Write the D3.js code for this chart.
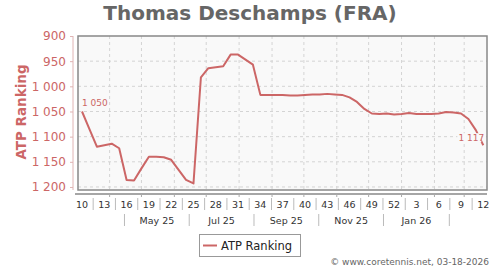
<!DOCTYPE html>
<html>
<head>
<meta charset="utf-8">
<script src="https://cdn.jsdelivr.net/npm/d3@7"></script>
<style>
    body { margin: 0; background: #fff; }
    text { font-family: "DejaVu Sans", sans-serif; }
</style>
</head>
<body>
<div id="chart_div"></div>
<script>
// weekly ATP ranking, 2025 week 10 .. 2026 week 12
const weeks = [10, 11, 12, 13, 14, 15, 16, 17, 18, 19, 20, 21, 22, 23, 24, 25, 26, 27, 28, 29,
    30, 31, 32, 33, 34, 35, 36, 37, 38, 39, 40, 41, 42, 43, 44, 45, 46, 47, 48, 49, 50, 51, 52,
    1, 2, 3, 4, 5, 6, 7, 8, 9, 10, 11, 12];
const ranking = [1050, 1085, 1120, 1117, 1114, 1123, 1186, 1187, 1163, 1140, 1140, 1141, 1146, 1166, 1186, 1193,
    982, 964, 962, 960, 937, 937, 947, 957, 1017, 1017, 1017, 1017, 1018, 1018, 1017, 1016, 1016, 1015, 1016,
    1017, 1022, 1031, 1045, 1054, 1055, 1054, 1056, 1055, 1053, 1055, 1055, 1055, 1054, 1051, 1052, 1054,
    1065, 1087, 1117];
const yTicks = [900, 950, 1000, 1050, 1100, 1150, 1200];
const monthLabels = ["May 25", "Jul 25", "Sep 25", "Nov 25", "Jan 26"];
const firstWeekDate = new Date(2025, 2, 6); // thursday of week 10

const width = 500;
const height = 270;
const plot = { left: 78, right: 487, top: 36, bottom: 190 };
const red = "#cc6666";

const svg = d3.select("#chart_div")
    .append("svg")
    .attr("width", width)
    .attr("height", height);

// Scales
const x = d3.scaleLinear()
    .domain([-0.54, 54.5])
    .range([plot.left, plot.right]);

const y = d3.scaleLinear()
    .domain([900, 1206])
    .range([plot.top, plot.bottom]);

const dayIndex = d => (d - firstWeekDate) / (7 * 24 * 3600 * 1000);
const monthStarts = d3.timeMonth.range(new Date(2025, 3, 1), new Date(2026, 2, 2));
const separators = [3, 5, 7, 9, 11, 13].map(m => new Date(2025, m, 15));
const fmt = v => d3.format(",")(v).replace(/,/g, " ");

// Title
svg.append("text")
    .attr("x", 250)
    .attr("y", 20)
    .attr("text-anchor", "middle")
    .attr("font-size", 20)
    .attr("font-weight", "bold")
    .attr("fill", "#666")
    .text("Thomas Deschamps (FRA)");

// Plot background and grid
svg.append("rect")
    .attr("x", plot.left)
    .attr("y", plot.top)
    .attr("width", plot.right - plot.left)
    .attr("height", plot.bottom - plot.top)
    .attr("fill", "#f9f9f9");

const grid = svg.append("g")
    .attr("stroke", "#d4d4d4")
    .attr("stroke-dasharray", "3,3");

grid.selectAll(".hgrid")
    .data(yTicks.slice(1))
    .enter()
    .append("line")
    .attr("x1", plot.left)
    .attr("x2", plot.right)
    .attr("y1", d => y(d))
    .attr("y2", d => y(d));

grid.selectAll(".vgrid")
    .data(monthStarts)
    .enter()
    .append("line")
    .attr("x1", d => x(dayIndex(d)))
    .attr("x2", d => x(dayIndex(d)))
    .attr("y1", plot.top)
    .attr("y2", plot.bottom);

svg.append("rect")
    .attr("x", plot.left)
    .attr("y", plot.top)
    .attr("width", plot.right - plot.left)
    .attr("height", plot.bottom - plot.top)
    .attr("fill", "none")
    .attr("stroke", "#888")
    .attr("stroke-width", 1.5);

// Y axis
const yAxis = svg.append("g")
    .attr("transform", `translate(${plot.left - 5},0)`)
    .call(d3.axisLeft(y).tickValues(yTicks).tickSize(3).tickPadding(4).tickFormat(fmt));

yAxis.select(".domain").attr("stroke", "#e0b4b4").attr("d", `M0,${plot.top}V${plot.bottom}`);
yAxis.selectAll(".tick line").attr("stroke", "#e0b4b4");
yAxis.selectAll(".tick text")
    .attr("fill", red)
    .attr("font-size", 12)
    .attr("font-family", "DejaVu Sans");

svg.append("text")
    .attr("transform", "translate(26,112) rotate(-90)")
    .attr("text-anchor", "middle")
    .attr("font-size", 13.5)
    .attr("font-weight", "bold")
    .attr("fill", red)
    .text("ATP Ranking");

// X axis
const axisY = 194;
svg.append("line")
    .attr("x1", plot.left - 3)
    .attr("x2", plot.right)
    .attr("y1", axisY)
    .attr("y2", axisY)
    .attr("stroke", "#888")
    .attr("stroke-width", 1.5);

svg.append("g")
    .selectAll("line")
    .data(monthStarts)
    .enter()
    .append("line")
    .attr("x1", d => x(dayIndex(d)))
    .attr("x2", d => x(dayIndex(d)))
    .attr("y1", axisY)
    .attr("y2", axisY + 3)
    .attr("stroke", "#aaa");

const weekLabelIdx = d3.range(0, weeks.length, 3);

svg.append("g")
    .selectAll("text")
    .data(weekLabelIdx)
    .enter()
    .append("text")
    .attr("x", i => x(i))
    .attr("y", 208)
    .attr("text-anchor", "middle")
    .attr("font-size", 9.5)
    .attr("fill", "#333")
    .text(i => weeks[i]);

svg.append("g")
    .selectAll("line")
    .data(weekLabelIdx.slice(0, -1))
    .enter()
    .append("line")
    .attr("x1", i => x(i + 1.5))
    .attr("x2", i => x(i + 1.5))
    .attr("y1", 198)
    .attr("y2", 210)
    .attr("stroke", "#bbb");

svg.append("g")
    .selectAll("line")
    .data(separators)
    .enter()
    .append("line")
    .attr("x1", d => x(dayIndex(d)))
    .attr("x2", d => x(dayIndex(d)))
    .attr("y1", 214)
    .attr("y2", 226)
    .attr("stroke", "#bbb");

svg.append("g")
    .selectAll("text")
    .data(monthLabels)
    .enter()
    .append("text")
    .attr("x", (d, i) => (x(dayIndex(separators[i])) + x(dayIndex(separators[i + 1]))) / 2)
    .attr("y", 224)
    .attr("text-anchor", "middle")
    .attr("font-size", 9.5)
    .attr("fill", "#333")
    .text(d => d);

// Line
const line = d3.line()
    .x((d, i) => x(i))
    .y(d => y(d));

svg.append("path")
    .datum(ranking)
    .attr("fill", "none")
    .attr("stroke", red)
    .attr("stroke-width", 2)
    .attr("stroke-linejoin", "round")
    .attr("d", line);

const last = ranking.length - 1;
svg.append("text")
    .attr("x", x(0))
    .attr("y", y(ranking[0]) - 5)
    .attr("font-size", 9)
    .attr("fill", red)
    .text(fmt(ranking[0]));

svg.append("rect")
    .attr("x", x(last) - 26)
    .attr("y", y(ranking[last]) - 12)
    .attr("width", 24)
    .attr("height", 9)
    .attr("fill", "#f9f9f9");

svg.append("text")
    .attr("x", x(last) + 1)
    .attr("y", y(ranking[last]) - 4)
    .attr("text-anchor", "end")
    .attr("font-size", 9)
    .attr("fill", red)
    .text(fmt(ranking[last]));

// Legend
const legend = svg.append("g");
legend.append("rect")
    .attr("x", 199.5)
    .attr("y", 234.5)
    .attr("width", 101)
    .attr("height", 22)
    .attr("fill", "#fff")
    .attr("stroke", "#999");
legend.append("line")
    .attr("x1", 203)
    .attr("x2", 217)
    .attr("y1", 245.5)
    .attr("y2", 245.5)
    .attr("stroke", red)
    .attr("stroke-width", 2);
legend.append("text")
    .attr("x", 221)
    .attr("y", 250)
    .attr("font-size", 11.5)
    .attr("fill", "#222")
    .text("ATP Ranking");

svg.append("text")
    .attr("x", 489)
    .attr("y", 265)
    .attr("text-anchor", "end")
    .attr("font-size", 9)
    .attr("fill", "#666")
    .text("© www.coretennis.net, 03-18-2026");
</script>
</body>
</html>
